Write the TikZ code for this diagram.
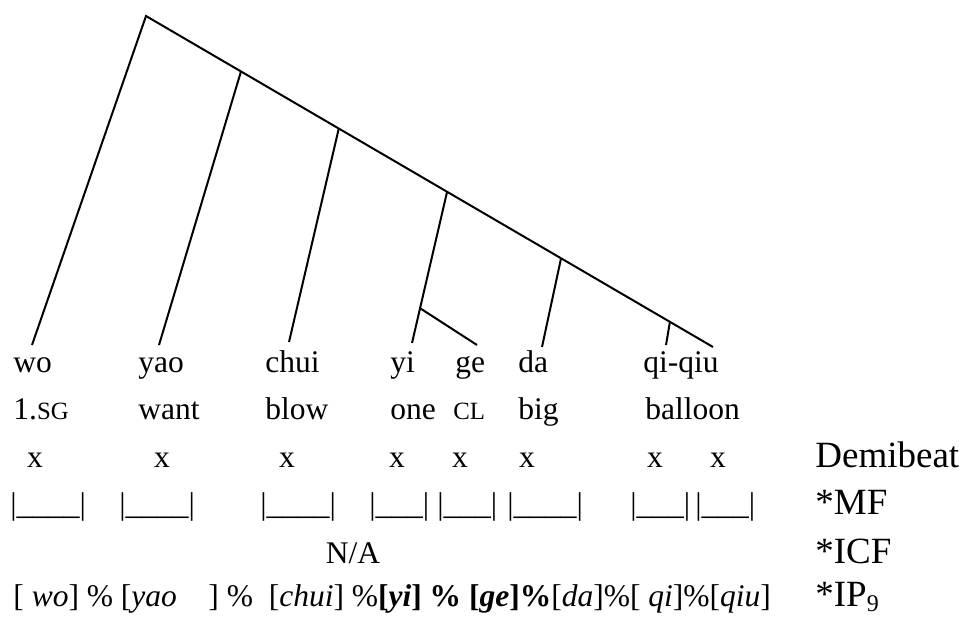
\documentclass[tikz,border=0pt]{standalone}
\usepackage{fontspec}
\setmainfont{Liberation Serif}
\usetikzlibrary{positioning, calc}

\tikzset{
  word/.style={anchor=base west, inner sep=0pt},
  beat/.style={anchor=base, inner sep=0pt},
  tier/.style={anchor=base west, inner sep=0pt, font=\fontsize{18.5}{22}\selectfont},
  branch/.style={line width=1pt}
}
\newcommand{\gl}[1]{{\fontsize{12.4}{14}\selectfont #1}}
\newcommand{\lowidx}[1]{\raisebox{-0.15em}{\fontsize{12}{14}\selectfont #1}}

\begin{document}
\begin{tikzpicture}[x=0.5pt, y=-0.5pt, font=\fontsize{15.75}{19}\selectfont]
  \useasboundingbox (0,0) rectangle (961,616);

  % tree
  \coordinate (root) at (146,16);
  \coordinate (spine-end) at (713,347);
  \coordinate (wo-tip) at (32,345);
  \coordinate (yao-tip) at (159,345);
  \coordinate (chui-tip) at (289,342);
  \coordinate (yi-tip) at (412,343);
  \coordinate (ge-tip) at (477,345);
  \coordinate (da-tip) at (542,347);
  \coordinate (qiqiu-tip) at (666,345);
  \coordinate (yao-top) at ($(root)!0.1675!(spine-end)$);
  \coordinate (chui-top) at ($(root)!0.340!(spine-end)$);
  \coordinate (yi-top) at ($(root)!0.531!(spine-end)$);
  \coordinate (da-top) at ($(root)!0.732!(spine-end)$);
  \coordinate (qiqiu-top) at ($(root)!0.924!(spine-end)$);
  \coordinate (cl-node) at ($(yi-top)!0.77!(yi-tip)$);

  \draw[branch] (wo-tip) -- (root) -- (spine-end);
  \draw[branch] (yao-top) -- (yao-tip);
  \draw[branch] (chui-top) -- (chui-tip);
  \draw[branch] (yi-top) -- (yi-tip);
  \draw[branch] (cl-node) -- (ge-tip);
  \draw[branch] (da-top) -- (da-tip);
  \draw[branch] (qiqiu-top) -- (qiqiu-tip);

  % words
  \node[word] (wo) at (13,372) {wo};
  \node[word] (yao) at (138,372) {yao};
  \node[word] (chui) at (265,372) {chui};
  \node[word] (yi) at (390,372) {yi};
  \node[word] (ge) at (455,372) {ge};
  \node[word] (da) at (518,372) {da};
  \node[word] (qiqiu) at (643,372) {qi-qiu};

  % glosses
  \node[word] (g-wo) at (13,419) {1.\gl{SG}};
  \node[word] (g-yao) at (138,419) {want};
  \node[word] (g-chui) at (265,419) {blow};
  \node[word] (g-yi) at (390,419) {one};
  \node[word] (g-ge) at (453,419) {\gl{CL}};
  \node[word] (g-da) at (518,419) {big};
  \node[word] (g-qiqiu) at (645,419) {balloon};

  % demibeats
  \foreach \n/\x in {1/35, 2/162, 3/287, 4/397, 5/460, 6/527, 7/655, 8/718}
    \node[beat] (x\n) at (\x,467) {x};

  % MF brackets
  \node[word] (mf1) at (10,514) {|\_\_\_\_|};
  \node[word] (mf2) at (119,514) {|\_\_\_\_|};
  \node[word] (mf3) at (260,514) {|\_\_\_\_|};
  \node[word] (mf4) at (369,514) {|\_\_\_|};
  \node[word] (mf5) at (437,514) {|\_\_\_|};
  \node[word] (mf6) at (507,514) {|\_\_\_\_|};
  \node[word] (mf7) at (630,514) {|\_\_\_|};
  \node[word] (mf8) at (695,514) {|\_\_\_|};

  % ICF
  \node[beat] (icf) at (353,563) {N/A};

  % IP
  \node[word] (ip) at (13,606) {[ \textit{wo}] \% [\textit{yao}\quad] \%\ \ [\textit{chui}] \%\textbf{[\textit{yi}] \% [\textit{ge}]\%}[\textit{da}]\%[ \textit{qi}]\%[\textit{qiu}]};

  % tier labels
  \node[tier] (t-demi) at (815,467) {Demibeat};
  \node[tier] (t-mf) at (815,514) {*MF};
  \node[tier] (t-icf) at (815,563) {*ICF};
  \node[tier] (t-ip) at (815,606) {*IP\lowidx{9}};
\end{tikzpicture}
\end{document}
